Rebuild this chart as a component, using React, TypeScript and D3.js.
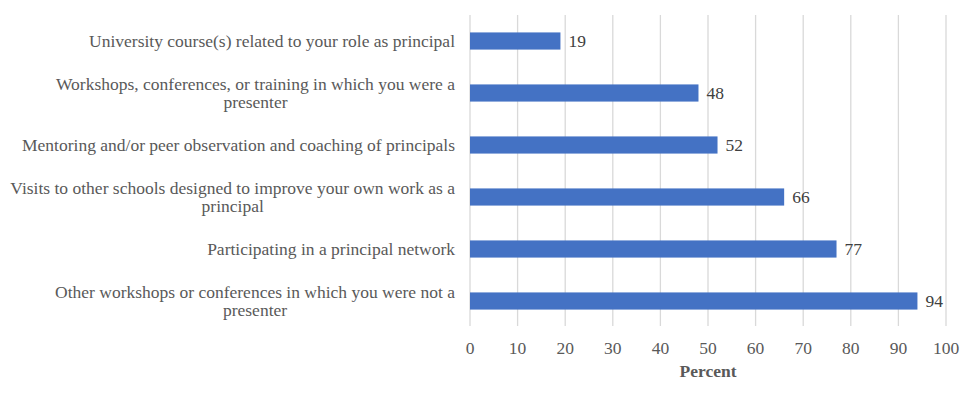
import React, { useEffect, useRef } from "react";
import * as d3 from "d3";

const categories: string[][] = [
  ["University course(s) related to your role as principal"],
  ["Workshops, conferences, or training in which you were a", "presenter"],
  ["Mentoring and/or peer observation and coaching of principals"],
  ["Visits to other schools designed to improve your own work as a", "principal"],
  ["Participating in a principal network"],
  ["Other workshops or conferences in which you were not a", "presenter"],
];
const values: number[] = [19, 48, 52, 66, 77, 94];
const ticks: number[] = [0, 10, 20, 30, 40, 50, 60, 70, 80, 90, 100];
const axisTitle = "Percent";

const W = 974;
const H = 397;

export default function App() {
  const ref = useRef<SVGSVGElement>(null);
  useEffect(() => {
    const svg = d3.select(ref.current);
    svg.selectAll("*").remove();
    const x = d3.scaleLinear().domain([0, 100]).range([470, 946]);
    const y = d3
      .scaleBand<number>()
      .domain(d3.range(values.length))
      .range([15, 327])
      .paddingInner(0.67)
      .paddingOuter(0.335);
    const font = "'Liberation Serif', 'Times New Roman', serif";
    const fs = 17.5;

    svg
      .append("g")
      .selectAll("line")
      .data(ticks)
      .join("line")
      .attr("x1", (d) => x(d))
      .attr("x2", (d) => x(d))
      .attr("y1", 15)
      .attr("y2", 326)
      .attr("stroke", "#d9d9d9")
      .attr("stroke-width", 1.3);

    svg
      .append("g")
      .selectAll("rect")
      .data(values)
      .join("rect")
      .attr("x", x(0))
      .attr("y", (_, i) => y(i)!)
      .attr("width", (d) => x(d) - x(0))
      .attr("height", y.bandwidth())
      .attr("fill", "#4472C4");

    svg
      .append("g")
      .selectAll("text")
      .data(values)
      .join("text")
      .attr("x", (d) => x(d) + 8)
      .attr("y", (_, i) => y(i)! + y.bandwidth() / 2)
      .attr("dy", "0.35em")
      .attr("font-family", font)
      .attr("font-size", fs)
      .attr("fill", "#404040")
      .text((d) => d);

    const lh = 18.5;
    categories.forEach((lines, i) => {
      const cy = y(i)! + y.bandwidth() / 2;
      const g = svg.append("g");
      const texts = lines.map((l, j) =>
        g
          .append("text")
          .attr("y", cy + (j - (lines.length - 1) / 2) * lh)
          .attr("dy", "0.35em")
          .attr("font-family", font)
          .attr("font-size", fs)
          .attr("fill", "#595959")
          .attr("text-anchor", "middle")
          .text(l)
      );
      const maxW = Math.max(
        ...texts.map((t) => (t.node() as SVGTextElement).getComputedTextLength())
      );
      texts.forEach((t) => t.attr("x", 455 - maxW / 2));
    });

    svg
      .append("g")
      .selectAll("text")
      .data(ticks)
      .join("text")
      .attr("x", (d) => x(d))
      .attr("y", 348)
      .attr("dy", "0.35em")
      .attr("text-anchor", "middle")
      .attr("font-family", font)
      .attr("font-size", fs)
      .attr("fill", "#595959")
      .text((d) => d);

    svg
      .append("text")
      .attr("x", (x(0) + x(100)) / 2)
      .attr("y", 371)
      .attr("dy", "0.35em")
      .attr("text-anchor", "middle")
      .attr("font-family", font)
      .attr("font-size", fs)
      .attr("font-weight", "bold")
      .attr("fill", "#595959")
      .text(axisTitle);
  }, []);
  return (
    <svg
      ref={ref}
      width={W}
      height={H}
      style={{ position: "absolute", left: 0, top: 0, background: "#fff" }}
    />
  );
}
